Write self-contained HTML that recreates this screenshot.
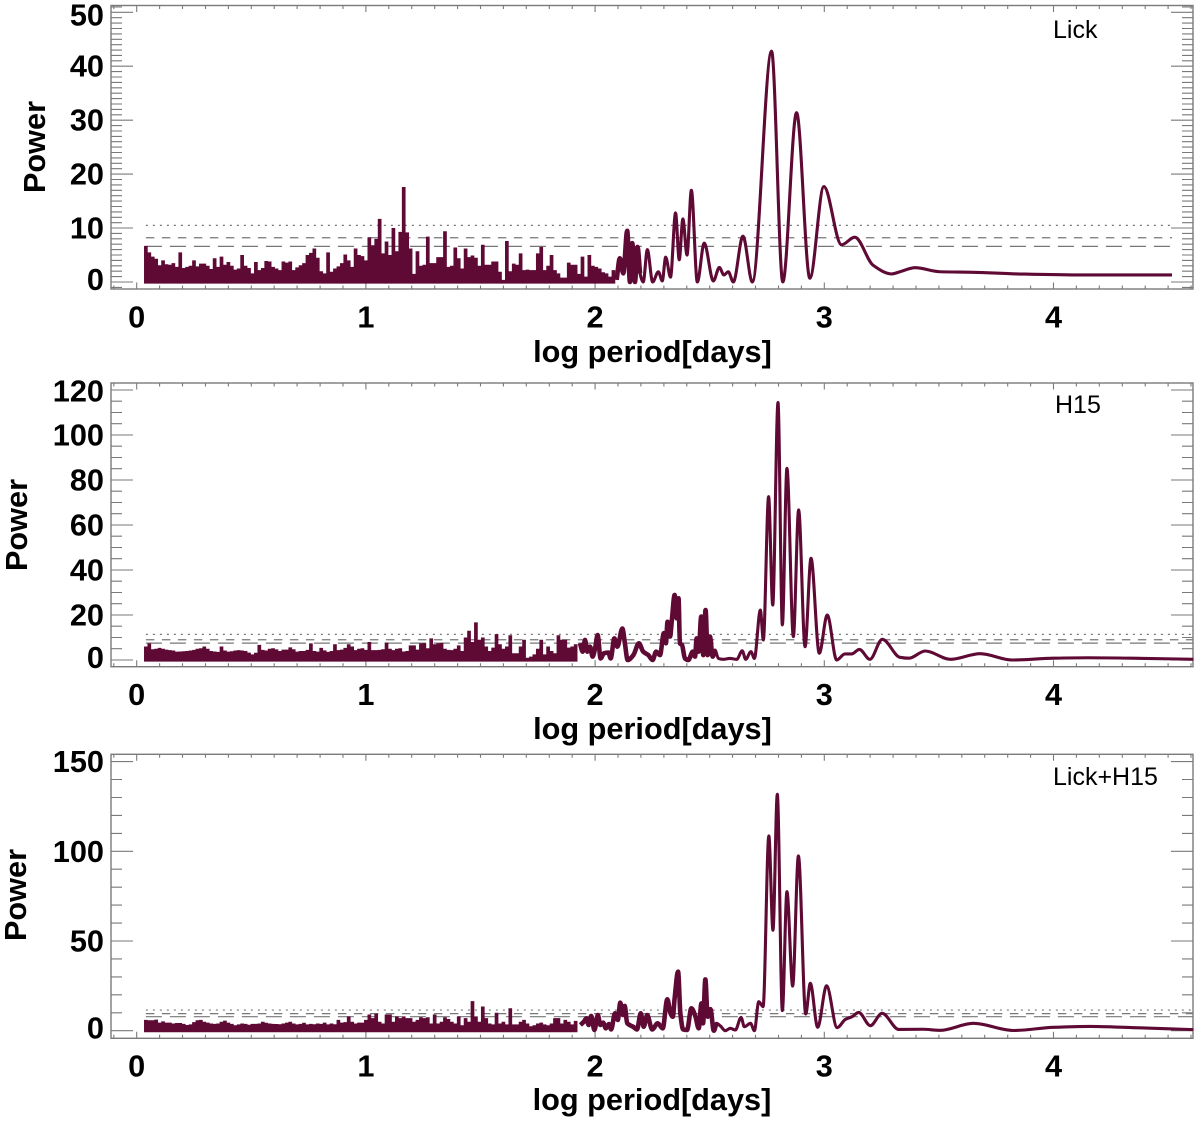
<!DOCTYPE html>
<html lang="en">
<head>
<meta charset="utf-8">
<title>Periodograms: Lick, H15, Lick+H15</title>
<style>
html,body{margin:0;padding:0;background:#fff;}
svg{display:block;}
text{font-family:"Liberation Sans",Arial,sans-serif;fill:#000;}
.b{font-weight:700;font-size:30.7px;}
.n{font-size:25px;}
</style>
</head>
<body>
<svg id="chart" xmlns="http://www.w3.org/2000/svg" width="1200" height="1124" viewBox="0 0 1200 1124">
  <rect x="0" y="0" width="1200" height="1124" fill="#fff"/>
  <g id="panel-lick"></g>
  <g id="panel-h15"></g>
  <g id="panel-both"></g>

  <text class="b" x="652.5" y="362" text-anchor="middle">log period[days]</text>
  <text class="b" x="652.5" y="739" text-anchor="middle">log period[days]</text>
  <text class="b" x="652" y="1110" text-anchor="middle">log period[days]</text>

  <text class="b" transform="translate(45,147) rotate(-90)" text-anchor="middle">Power</text>
  <text class="b" transform="translate(27,525) rotate(-90)" text-anchor="middle">Power</text>
  <text class="b" transform="translate(26,895) rotate(-90)" text-anchor="middle">Power</text>

  <text class="n" x="1053" y="38">Lick</text>
  <text class="n" x="1055" y="413">H15</text>
  <text class="n" x="1053" y="785">Lick+H15</text>
</svg>
<script>
// ---------- shared tick labels ----------
const xTickValues = [0, 1, 2, 3, 4];
const lickYTicks = [0, 10, 20, 30, 40, 50];
const h15YTicks = [0, 20, 40, 60, 80, 100, 120];
const bothYTicks = [0, 50, 100, 150];

// ---------- false-alarm levels: dotted, dashed, long-dashed ----------
const lickLevels = [10.5, 8.2, 6.6];
const h15Levels = [11.4, 9.0, 7.5];
const bothLevels = [11.5, 9.5, 7.8];

// ---------- short-period spike heights, one per noise bin from log P = 0.04 ----------
const noiseStart = 0.04;
const noiseStep = 0.015;
const lickNoise = [6.7,5.5,4.7,4.3,3.1,4,3.3,3.2,3.5,2.8,5.5,2.6,2.8,3,4,2.9,3.4,3.4,3,2.4,4.4,2.8,4.7,3.2,3.7,3,2.3,2.5,5,3,2.6,1.6,3.7,2.2,2.6,3.9,3.8,2.8,2.5,2.2,3.8,3.6,3.8,2.2,2.7,3.1,3.5,5,5.4,6.2,4.5,2,1.6,5.5,1.9,2.5,2.9,3.5,5.1,4,2.8,6.2,5,4.8,4,8.3,6.8,8,11.7,5.3,7.5,5,10,5.7,9.3,17.6,9.2,6.2,1.5,5.7,3,3.2,8.4,3.5,3.5,4.6,4.6,9.4,2.8,3,6.4,4.4,2.5,6.2,4.6,4.9,4.5,3,6.9,3.2,3.2,3.8,3.8,1.9,0.4,7.6,2,3.4,3.2,5.3,2.2,2.3,2.2,2.2,5.3,6.5,2.2,3,5,2.2,1.6,0.8,0.8,3.6,3.2,3.2,1.5,4.7,1,5,3,2.8,2.5,1.8,1.6,1,2.2];
const h15Noise = [6,7.4,4.8,5,5.4,5,4.6,4.4,4.2,3.7,3.8,3.9,4,4.2,4.5,5,5.2,6,5,4,3.8,3.6,6,4.2,3.7,3.9,4.2,4.4,4.2,4,3.3,2.5,3.2,6.7,4.5,4.2,5,5.2,4.7,4,4.6,4.6,5.6,4.8,3.7,4,4,4.5,7.4,4,3.7,5.4,4.3,3.6,4,7,4.4,4.6,5.4,7,6,4.4,5,5.2,4.5,8,4.4,4.4,4.5,4.8,7.8,5,4.4,5,5.2,3.8,4,6.5,6.5,4.6,7.4,7.5,5.2,9.6,7,7.4,7.6,5,4.5,4.4,5,6.5,4,10,13,8,16.7,9,10,6,4,5.5,11.5,7,5,6,11,3,3,6,9,1,1.5,2.5,5,9,2.5,6,4,3,11,9,9,5.5,6,7];
const bothNoise = [6,5.8,5.8,6.2,4.5,5.2,4.5,4.5,4,4.3,4.3,3.8,3.2,3.5,4.8,5.8,6,5,4.5,4,3.8,4,5,5.6,4.5,3.8,3,3.5,4,3.8,3.3,3.8,3.8,4,5,4.4,4,3.8,3.7,3.6,4,4.5,5,4,3.5,3.8,4.4,3.5,3.8,3.6,4,3.8,4.5,3.5,4,3.6,6,4.5,4.8,8,5,4,4.5,4.5,6,9,7,9.5,5,4,9,9,5,8,7,8,7,7,5,6,7.5,7,7.5,4,9,4,5,7.5,6.5,5,4,8,3,7,5,16.5,8,5,13.5,7,4,3.5,10,4,5,3.5,12.5,3.5,3.5,5,6,4,2.5,3,4,4.5,3.5,3,4,7,7,4,6,5,3.5,5.5];

// ---------- long-period curves ----------
const lickLogP = [2.094,2.108,2.123,2.140,2.152,2.162,2.174,2.185,2.196,2.210,2.228,2.251,2.276,2.293,2.308,2.329,2.351,2.367,2.383,2.401,2.420,2.446,2.476,2.516,2.542,2.562,2.581,2.603,2.645,2.686,2.770,2.819,2.879,2.937,2.998,3.075,3.133,3.213,3.294,3.330,3.396,3.505,3.650,3.840,4.130,4.517];
const lickPower = [0.4,4.4,1.6,9.5,0,7.2,0,6.5,1.6,0,6,0,1.9,0.2,4.6,0.9,12.8,4.1,11.7,5,17,0,7.2,0.2,2.7,1.3,1.9,0,8.5,0,42.8,0,31.4,0.7,17.7,6.9,8.3,3.1,1.5,1.9,2.65,1.9,1.8,1.5,1.3,1.3];

const h15LogP = [1.934,1.946,1.956,1.966,1.978,1.989,2.000,2.011,2.024,2.039,2.058,2.068,2.084,2.097,2.119,2.130,2.142,2.167,2.191,2.210,2.232,2.251,2.266,2.283,2.300,2.309,2.316,2.327,2.335,2.347,2.356,2.364,2.370,2.379,2.392,2.407,2.426,2.436,2.443,2.452,2.463,2.472,2.482,2.491,2.501,2.513,2.523,2.538,2.559,2.588,2.618,2.642,2.657,2.680,2.695,2.721,2.734,2.757,2.775,2.798,2.817,2.837,2.865,2.888,2.916,2.942,2.978,3.013,3.054,3.090,3.119,3.153,3.199,3.253,3.330,3.370,3.440,3.550,3.680,3.820,4.000,4.150,4.400,4.610];
const h15Power = [7.4,3.7,8.9,3.7,5.9,1.5,5.2,11.1,0.7,3,3.3,0.7,9.6,5.9,14,7.4,0,2.2,7.4,3.7,2.2,0,3.7,2.2,11.9,7.4,17,10.4,17.8,28.9,18.5,27.4,7.4,6.7,0.7,0,3.7,1.5,9.6,3.7,19.3,2.2,22.2,2.2,10.4,1.5,4.4,0.7,0.3,0.7,0.3,4.1,0.3,3.7,0.7,22.2,8.9,72.6,24.4,114.4,15.6,85.2,10.4,66.7,5.9,45.2,3,20,0,2.7,2.7,4.7,0.3,9.2,1.2,0.8,4,0.3,2.8,0,0.8,1,0.7,0.3];

const bothLogP = [1.936,1.951,1.962,1.972,1.983,1.997,2.012,2.023,2.035,2.047,2.060,2.070,2.087,2.099,2.110,2.121,2.129,2.140,2.166,2.183,2.199,2.212,2.227,2.249,2.273,2.295,2.315,2.329,2.339,2.347,2.362,2.372,2.384,2.401,2.420,2.438,2.452,2.464,2.471,2.481,2.491,2.503,2.518,2.529,2.547,2.568,2.590,2.612,2.637,2.651,2.678,2.695,2.714,2.733,2.758,2.776,2.795,2.817,2.837,2.862,2.887,2.919,2.939,2.971,3.010,3.056,3.092,3.121,3.150,3.201,3.252,3.325,3.430,3.505,3.650,3.825,4.000,4.160,4.350,4.610];
const bothPower = [3.2,5,6.9,3.2,8.2,0.4,8.7,3.2,4.5,1.3,3.7,0.7,9.7,6,15.6,8.7,13.8,4.1,2.2,0.7,9.7,2.2,8.7,0.7,4.1,1.3,17.5,9.7,7.8,18,32.9,9.7,0.7,0.4,12.5,7.8,1.3,15.2,4.1,28.6,7.8,12,0,4.1,2.6,0,1.3,0.4,7.4,2.2,4.1,0,16.2,13.4,108.6,56,131.8,11.2,77.5,24.9,97.4,9.3,26.4,1.9,25,1.7,6.3,7.8,10.2,2.8,9.7,0.7,0.8,0.2,4.1,0.1,1.9,2.4,1.7,0.6];

// ---------- layout ----------
const SVGNS = 'http://www.w3.org/2000/svg';
const frameLeft = 111, frameRight = 1193;
const xScale = function (v) { return 136.7 + 229.2 * v; };
function makeYScale(dMin, dMax, bottom, top) {
  return function (v) { return bottom + (v - dMin) * (top - bottom) / (dMax - dMin); };
}
const lineColor = '#5e0a35';
const axisColor = '#7a7a7a';

function shape(parent, tag, attrs) {
  const el = document.createElementNS(SVGNS, tag);
  for (const k in attrs) el.setAttribute(k, attrs[k]);
  parent.appendChild(el);
  return el;
}

// Monotone cubic path: flat at every local extreme, so troughs do not overshoot.
function smoothPath(xs, ys) {
  const n = xs.length;
  const sec = [];
  for (let i = 0; i < n - 1; i++) sec.push((ys[i + 1] - ys[i]) / (xs[i + 1] - xs[i]));
  const m = [sec[0]];
  for (let i = 1; i < n - 1; i++) {
    if (sec[i - 1] * sec[i] <= 0) m.push(0);
    else m.push(2 * sec[i - 1] * sec[i] / (sec[i - 1] + sec[i]));
  }
  m.push(sec[n - 2]);
  let d = 'M' + xs[0].toFixed(2) + ' ' + ys[0].toFixed(2);
  for (let i = 0; i < n - 1; i++) {
    const h = (xs[i + 1] - xs[i]) / 3;
    d += 'C' + (xs[i] + h).toFixed(2) + ' ' + (ys[i] + m[i] * h).toFixed(2) + ' ' + (xs[i + 1] - h).toFixed(2) + ' ' + (ys[i + 1] - m[i + 1] * h).toFixed(2) + ' ' + xs[i + 1].toFixed(2) + ' ' + ys[i + 1].toFixed(2);
  }
  return d;
}

function drawPanel(cfg) {
  const g = document.getElementById(cfg.id);
  const yScale = makeYScale(cfg.dMin, cfg.dMax, cfg.bottom, cfg.top);

  // frame
  const frame = shape(g, 'rect', {x: frameLeft, y: cfg.top, width: frameRight - frameLeft, height: cfg.bottom - cfg.top, fill: 'none', stroke: axisColor, 'stroke-width': 1.4});
  
  

  // x ticks (top and bottom)
  let dx = '';
  for (let t = -1; t <= 46; t++) {
    const x = xScale(t / 10).toFixed(1);
    const len = t % 10 === 0 ? 6.5 : 3.5;
    dx += 'M' + x + ' ' + cfg.bottom + 'v' + (-len) + 'M' + x + ' ' + cfg.top + 'v' + len;
  }
  const xt = shape(g, 'path', {d: dx, stroke: axisColor, 'stroke-width': 1.1, fill: 'none'});
  
  

  // y ticks (left and right)
  let dy = '';
  for (let v = Math.ceil(cfg.dMin / cfg.minor) * cfg.minor; v <= cfg.dMax; v += cfg.minor) {
    const y = yScale(v).toFixed(1);
    const len = cfg.yTicks.indexOf(v) >= 0 ? 22 : 11;
    dy += 'M' + frameLeft + ' ' + y + 'h' + len + 'M' + frameRight + ' ' + y + 'h' + (-len);
  }
  const yt = shape(g, 'path', {d: dy, stroke: axisColor, 'stroke-width': 1.1, fill: 'none'});
  
  

  // tick labels
  xTickValues.forEach(function (v) {
    const t = shape(g, 'text', {x: xScale(v), y: cfg.bottom + 38.3, 'text-anchor': 'middle', 'class': 'b'});
    t.textContent = String(v);
    
    
  });
  cfg.yTicks.forEach(function (v, i) {
    let nudge = 10.5;
    if (i === 0) nudge = 8;
    if (i === cfg.yTicks.length - 1) nudge = 10.5 + cfg.topNudge;
    const t = shape(g, 'text', {x: 104, y: yScale(v) + nudge, 'text-anchor': 'end', 'class': 'b'});
    t.textContent = String(v);
    
    
  });

  // significance levels
  const dashes = ['2 5', '8.5 7.5', '16 8'];
  const levelNames = ['dotted', 'dashed', 'long-dashed'];
  cfg.levels.forEach(function (v, i) {
    const l = shape(g, 'line', {x1: xScale(noiseStart), x2: cfg.levelEnd, y1: yScale(v), y2: yScale(v), stroke: '#777', 'stroke-width': 1.2, 'stroke-dasharray': dashes[i]});
    
    
  });

  // short-period spikes
  let dn = '';
  const y0 = (yScale(0) + 1.6).toFixed(2);
  cfg.noise.forEach(function (v, i) {
    const x = xScale(noiseStart + noiseStep * i).toFixed(2);
    dn += 'M' + x + ' ' + y0 + 'V' + yScale(v).toFixed(2);
  });
  const noise = shape(g, 'path', {d: dn, stroke: lineColor, 'stroke-width': 3.7, fill: 'none'});
  
  

  // long-period curve
  const px = cfg.logP.map(xScale);
  const py = cfg.power.map(yScale);
  const curve = shape(g, 'path', {d: smoothPath(px, py), stroke: lineColor, 'stroke-width': 3.1, fill: 'none', 'stroke-linejoin': 'round'});
  
  

  // the densely sampled part of the curve reads as a heavier line
  const dense = cfg.logP.filter(function (v) { return v < cfg.denseEnd; }).length;
  if (dense > 2) {
    const thick = shape(g, 'path', {d: smoothPath(px.slice(0, dense), py.slice(0, dense)), stroke: lineColor, 'stroke-width': 4.6, fill: 'none', 'stroke-linejoin': 'round'});
    
    
  }
}

drawPanel({id: 'panel-lick', key: 'lick', top: 5.5, bottom: 289, dMin: -1.3, dMax: 51.26, minor: 1, yTicks: lickYTicks, levels: lickLevels, levelEnd: 1172, noise: lickNoise, logP: lickLogP, power: lickPower, denseEnd: 2.2, topNudge: 2.5});
drawPanel({id: 'panel-h15', key: 'h15', top: 383, bottom: 666.7, dMin: -2.98, dMax: 123.1, minor: 5, yTicks: h15YTicks, levels: h15Levels, levelEnd: 1193, noise: h15Noise, logP: h15LogP, power: h15Power, denseEnd: 2.53, topNudge: 1});
drawPanel({id: 'panel-both', key: 'lick-h15', top: 754.3, bottom: 1038.3, dMin: -4.24, dMax: 154.07, minor: 10, yTicks: bothYTicks, levels: bothLevels, levelEnd: 1193, noise: bothNoise, logP: bothLogP, power: bothPower, denseEnd: 2.53, topNudge: 0});
</script>
</body>
</html>
